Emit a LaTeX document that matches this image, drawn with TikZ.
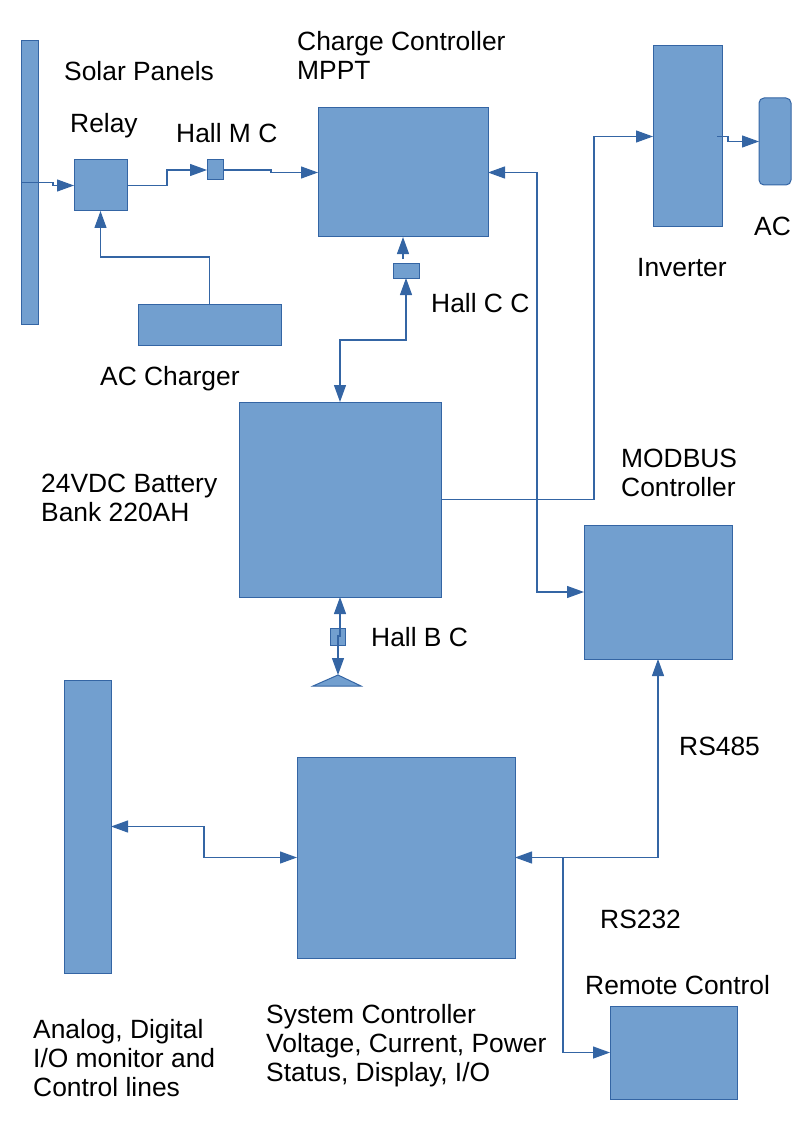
\documentclass[tikz,border=0pt]{standalone}
\usepackage{fontspec}
\setmainfont{Liberation Sans}
\usetikzlibrary{arrows.meta}
\definecolor{boxfill}{HTML}{729FCF}
\definecolor{boxline}{HTML}{3465A4}
\begin{document}
\begin{tikzpicture}[x=1pt,y=-1pt,
  blk/.style={draw=boxline,fill=boxfill,line width=1pt,inner sep=0pt,outer sep=0pt},
  conn/.style={draw=boxline,line width=1.2pt},
  tip/.tip={Triangle[length=17pt,width=12pt]},
  lbl/.style={inner sep=0pt,anchor=base west,align=left,font=\fontsize{26.4}{29}\selectfont}]
\useasboundingbox (0,0) rectangle (794,1123);
% blocks
\node[blk,minimum width=17,minimum height=283] (sp) at (29.5,182.5) {};
\node[blk,minimum width=53,minimum height=51] (relay) at (100.5,185.5) {};
\node[blk,minimum width=16,minimum height=20] (hmc) at (215,170) {};
\node[blk,minimum width=170,minimum height=129] (cc) at (403,172.5) {};
\node[blk,minimum width=26,minimum height=15] (hcc) at (406,270.5) {};
\node[blk,minimum width=143,minimum height=41] (acc) at (209.5,324.5) {};
\node[blk,minimum width=202,minimum height=195] (bat) at (340,499.5) {};
\node[blk,minimum width=15,minimum height=17] (hbc) at (337.5,636.5) {};
\node[blk,minimum width=69,minimum height=181] (inv) at (687.5,136.5) {};
\node[blk,minimum width=32,minimum height=87,rounded corners=5pt] (ac) at (775,141.5) {};
\node[blk,minimum width=148,minimum height=134] (mod) at (658,592) {};
\node[blk,minimum width=47,minimum height=293] (aio) at (87.5,826.5) {};
\node[blk,minimum width=218,minimum height=201] (sys) at (406,857.5) {};
\node[blk,minimum width=127,minimum height=93] (rc) at (673.5,1052.5) {};
\coordinate (gnd) at (338,675);
\fill[boxfill,draw=boxline,line width=1pt] (313,686) -- (gnd) -- (361,686) -- cycle;
% connectors
\coordinate (k1) at (0,257);
\coordinate (rsj) at (563,857.5);
\draw[conn,-tip] (sp.west) -- (53,182.5) -- (53,185.5) -- (relay.west);
\draw[conn,-tip] (relay.east) -- (167,185.5) |- (hmc.west);
\draw[conn,-tip] (hmc.east) -- (271,170) |- (cc.west);
\draw[conn,-tip] (acc.north) |- (relay.south |- k1) -- (relay.south);
\draw[conn,-tip] ([xshift=-3pt,yshift=19pt]hcc.south) -- (cc.south);
\draw[conn,tip-tip] (hcc.south) -- (406,340) -| (bat.north);
\draw[conn,-tip] (bat.east) -- (594,499.5) |- (inv.west);
\draw[conn,-tip] ([xshift=-5pt]inv.east) -- (728,136.5) -- (728,141.5) -- (ac.west);
\draw[conn,tip-tip] (cc.east) -- (537,172.5) |- (mod.west);
\draw[conn,tip-tip] (bat.south) -- (340,636) -- (338,636) -- (gnd);
\draw[conn,tip-tip] (mod.south) |- (sys.east);
\draw[conn,-tip] (rsj) |- (rc.west);
\draw[conn,tip-tip] (aio.east) -- (204,826.5) |- (sys.west);
% labels (base = baseline of the last line)
\node[lbl] (tsp) at (64,80.5) {Solar Panels};
\node[lbl] (trelay) at (70,132.5) {Relay};
\node[lbl] (thmc) at (176,142.5) {Hall M C};
\node[lbl] (tcc) at (297,79.5) {Charge Controller\\MPPT};
\node[lbl] (thcc) at (431,312.5) {Hall C C};
\node[lbl] (tacc) at (100,385.5) {AC Charger};
\node[lbl] (tinv) at (637,276.5) {Inverter};
\node[lbl] (tac) at (754,235.5) {AC};
\node[lbl] (tmod) at (621,496.5) {MODBUS\\Controller};
\node[lbl] (tbat) at (41,521.5) {24VDC Battery\\Bank 220AH};
\node[lbl] (thbc) at (371,646.5) {Hall B C};
\node[lbl] (t485) at (679,755.5) {RS485};
\node[lbl] (t232) at (600,928.5) {RS232};
\node[lbl] (trc) at (585,994.5) {Remote Control};
\node[lbl] (tsys) at (266,1081.5) {System Controller\\Voltage, Current, Power\\Status, Display, I/O};
\node[lbl] (taio) at (33,1096.5) {Analog, Digital\\I/O monitor and\\Control lines};
\end{tikzpicture}
\end{document}
